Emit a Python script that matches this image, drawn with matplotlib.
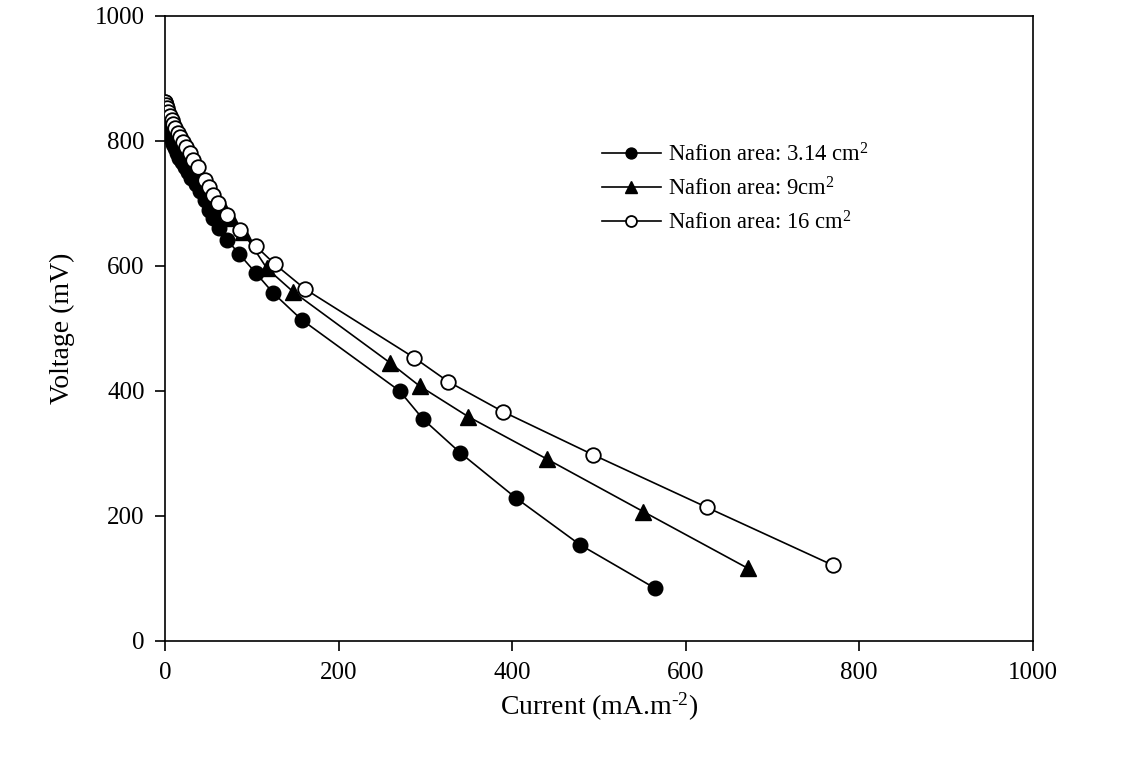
import matplotlib
matplotlib.use("Agg")
import matplotlib.pyplot as plt

plt.rcParams["font.family"] = ["Liberation Serif", "DejaVu Serif"]
plt.rcParams["mathtext.fontset"] = "custom"
plt.rcParams["mathtext.rm"] = "Liberation Serif"
plt.rcParams["mathtext.it"] = "Liberation Serif:italic"

# Polarisation data: current density (mA.m-2) vs. cell voltage (mV)
current_314 = [0, 0, 1, 2, 3, 5, 7, 9, 11, 13, 16, 19, 22, 26, 30, 35, 40, 45, 50,
               55, 62, 71, 85, 104, 124, 157, 270, 297, 340, 404, 478, 565]
voltage_314 = [862, 850, 838, 826, 818, 810, 802, 795, 788, 781, 773, 766, 758, 750,
               741, 731, 720, 705, 690, 677, 661, 642, 619, 589, 557, 514, 400, 355,
               301, 229, 154, 84]

current_9 = [0, 1, 2, 4, 6, 8, 11, 14, 18, 22, 27, 32, 38, 44, 51, 58, 66, 76, 89,
             117, 147, 259, 293, 349, 440, 551, 672]
voltage_9 = [860, 852, 845, 836, 828, 820, 811, 802, 792, 783, 772, 761, 749, 736,
             722, 708, 694, 677, 655, 596, 559, 445, 408, 359, 291, 207, 116]

current_16 = [0, 1, 2, 3, 5, 7, 9, 11, 14, 17, 20, 24, 28, 32, 37, 46, 50, 55, 61,
              71, 86, 104, 126, 161, 287, 326, 389, 493, 624, 770]
voltage_16 = [862, 857, 852, 846, 840, 833, 827, 820, 813, 806, 799, 790, 781, 770,
              758, 738, 726, 714, 700, 682, 658, 632, 603, 563, 453, 415, 367, 298,
              214, 121]

labels = [r"Nafion area: 3.14 cm$^{\mathregular{2}}$",
          r"Nafion area: 9cm$^{\mathregular{2}}$",
          r"Nafion area: 16 cm$^{\mathregular{2}}$"]
x_ticks = [0, 200, 400, 600, 800, 1000]
y_ticks = [0, 200, 400, 600, 800, 1000]

fig = plt.figure(figsize=(11.46, 7.58), dpi=100)
ax = fig.add_axes([0.1444, 0.1544, 0.7566, 0.8246])

lw = 1.2
ax.plot(current_314, voltage_314, color="black", lw=lw, marker="o", ms=10.5,
        mfc="black", mec="black", label=labels[0], zorder=3)
ax.plot(current_9, voltage_9, color="black", lw=lw, marker="^", ms=11.5,
        mfc="black", mec="black", label=labels[1], zorder=3)
ax.plot(current_16, voltage_16, color="black", lw=lw, marker="o", ms=10.5,
        mfc="white", mec="black", mew=1.3, label=labels[2], zorder=4)

ax.set_xlim(0, 1000)
ax.set_ylim(0, 1000)
ax.set_xticks(x_ticks)
ax.set_yticks(y_ticks)
ax.tick_params(direction="out", length=7, width=1.2, labelsize=18, pad=8)
for sp in ax.spines.values():
    sp.set_linewidth(1.2)

ax.set_xlabel(r"Current (mA.m$^{\text{-2}}$)", fontsize=20, labelpad=5)
ax.set_ylabel("Voltage (mV)", fontsize=20, labelpad=14)

leg = ax.legend(loc="upper left", bbox_to_anchor=(0.49, 0.815), frameon=False,
                fontsize=16.3, handlelength=2.6, handletextpad=0.35,
                labelspacing=0.48, markerscale=0.75, borderpad=0)

fig.savefig("out.png", dpi=100)
